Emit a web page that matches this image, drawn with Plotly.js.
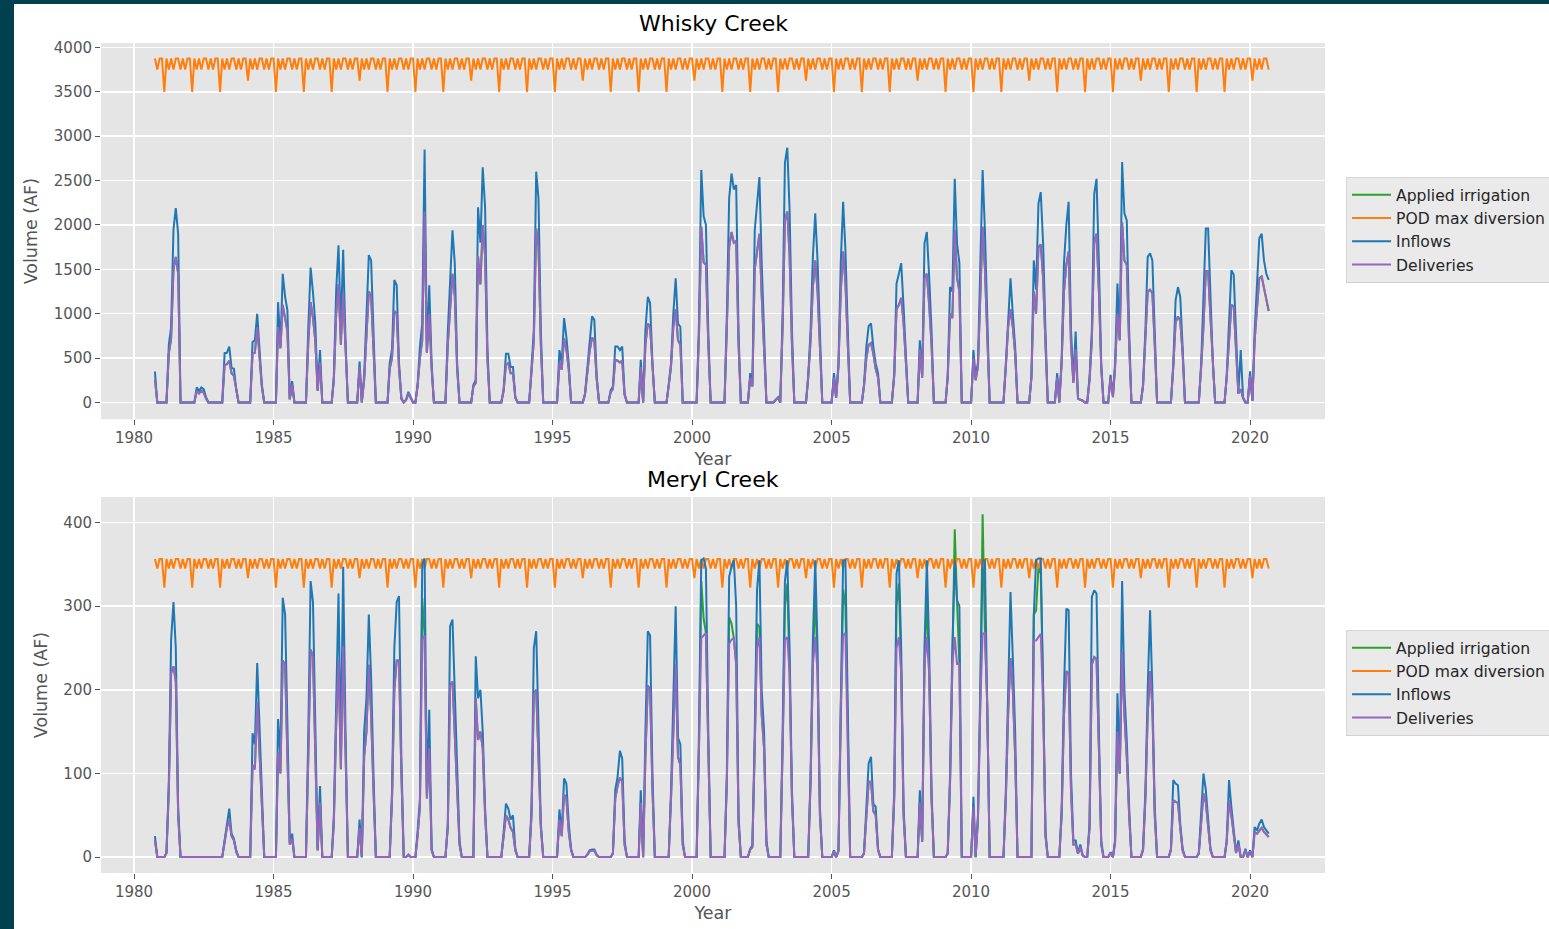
<!DOCTYPE html>
<html>
<head>
<meta charset="utf-8">
<script src="https://cdn.plot.ly/plotly-3.0.1.min.js"></script>
<style>
  html, body { margin:0; padding:0; background:#00404f; overflow:hidden; width:1549px; height:929px; }
  #chart { position:absolute; left:14px; top:4px; width:1535px; height:925px; background:#ffffff; overflow:hidden; }
</style>
</head>
<body>
<div id="chart"></div>
<script>
// ---------------- DATA (monthly, water years Oct..Sep) ----------------
const waterYears = [1981,1982,1983,1984,1985,1986,1987,1988,1989,1990,
                    1991,1992,1993,1994,1995,1996,1997,1998,1999,2000,
                    2001,2002,2003,2004,2005,2006,2007,2008,2009,2010,
                    2011,2012,2013,2014,2015,2016,2017,2018,2019,2020];
const monthOrder = [10,11,12,1,2,3,4,5,6,7,8,9];
const leapYears = [1984,1988,1992,1996,2000,2004,2008,2012,2016,2020];

const seriesNames = ["Applied irrigation","POD max diversion","Inflows","Deliveries"];
const chartTitles = ["Whisky Creek","Meryl Creek"];
const xTitle = "Year";
const yTitle = "Volume (AF)";

// POD max diversion: monthly pattern Oct..Sep, and leap-year February value
const whiskyPodPattern = [3875,3750,3875,3875,3500,3875,3750,3875,3750,3875,3875,3750];
const whiskyPodLeapFeb = 3625;
const merylPodPattern = [356.5,345,356.5,356.5,322,356.5,345,356.5,345,356.5,356.5,345];
const merylPodLeapFeb = 333.5;

// Whisky Creek inflows (one row per water year, Oct..Sep)
const whiskyInflows = [
 [349,0,0,0,0,0,650,850,1950,2190,1900,0],
 [0,0,0,0,0,0,170,130,170,150,60,0],
 [0,0,0,0,0,0,555,560,630,390,380,140],
 [0,0,0,0,0,0,680,700,1000,600,200,0],
 [0,0,0,0,0,1130,640,1450,1190,1040,40,240],
 [0,0,0,0,0,0,850,1520,1240,900,140,590],
 [0,0,0,0,0,300,1270,1770,820,1720,700,0],
 [0,0,0,0,460,0,300,1000,1660,1600,800,0],
 [0,0,0,0,0,440,600,1380,1320,450,50,0],
 [30,120,60,0,0,200,630,890,2850,570,1320,440],
 [0,0,0,0,0,0,800,1300,1940,1570,450,0],
 [0,0,0,0,0,200,250,2200,1800,2650,2200,600],
 [0,0,0,0,0,0,150,550,550,400,400,60],
 [0,0,0,0,0,0,400,820,2600,2300,800,0],
 [0,0,0,0,0,0,590,440,950,740,440,0],
 [0,0,0,0,0,100,400,700,970,930,300,0],
 [0,0,0,0,140,180,630,630,590,630,100,0],
 [0,0,0,0,0,480,0,820,1190,1120,440,0],
 [0,0,0,0,0,200,440,1000,1400,890,850,0],
 [0,0,0,0,0,0,900,2620,2100,2000,800,0],
 [0,0,0,0,0,0,1000,2300,2580,2400,2450,800],
 [0,0,0,0,330,200,1940,2200,2540,1570,820,0],
 [0,0,0,30,60,0,1000,2700,2870,2170,820,0],
 [0,0,0,0,0,300,820,1640,2130,1600,820,0],
 [0,0,0,0,330,60,440,1570,2260,1720,820,0],
 [0,0,0,0,0,200,630,860,890,630,440,330],
 [0,0,0,0,0,0,330,1340,1450,1570,1080,440],
 [0,0,0,0,0,700,300,1790,1920,1420,820,0],
 [0,0,0,0,0,300,1300,1250,2520,1790,1570,0],
 [0,0,0,0,590,290,450,1570,2620,1940,820,0],
 [0,0,0,0,0,0,440,1000,1400,1000,630,0],
 [0,0,0,0,0,300,1600,1270,2240,2370,1790,800],
 [0,0,0,0,330,0,500,1570,2000,2260,820,250],
 [800,50,30,20,0,0,290,820,2350,2520,1570,440],
 [0,0,0,310,70,440,1340,740,2710,2130,2050,820],
 [0,0,0,0,0,200,820,1640,1680,1600,820,0],
 [0,0,0,0,0,0,440,1150,1300,1190,630,0],
 [0,0,0,0,0,0,440,1100,1960,1960,1190,440],
 [0,0,0,0,0,300,900,1490,1440,820,105,590],
 [60,0,0,350,20,800,1340,1850,1900,1600,1450,1380]
];

// Whisky Creek deliveries
const whiskyDeliveries = [
 [260,0,0,0,0,0,550,720,1500,1640,1450,0],
 [0,0,0,0,0,0,130,100,130,110,45,0],
 [0,0,0,0,0,0,420,430,470,330,300,120],
 [0,0,0,0,0,0,550,560,850,500,170,0],
 [0,0,0,0,0,850,610,1100,950,800,35,200],
 [0,0,0,0,0,0,680,1130,950,700,130,450],
 [0,0,0,0,0,250,1000,1330,650,1230,550,0],
 [0,0,0,0,400,0,250,800,1250,1200,600,0],
 [0,0,0,0,0,380,500,1030,1000,380,40,0],
 [25,100,50,0,0,180,500,700,2150,560,1000,380],
 [0,0,0,0,0,0,650,1050,1450,1200,380,0],
 [0,0,0,0,0,180,220,1650,1330,2000,1650,480],
 [0,0,0,0,0,0,130,430,440,330,330,50],
 [0,0,0,0,0,0,350,700,1960,1750,650,0],
 [0,0,0,0,0,0,450,370,720,600,370,0],
 [0,0,0,0,0,90,350,580,730,700,260,0],
 [0,0,0,0,120,150,480,470,450,470,85,0],
 [0,0,0,0,0,400,0,650,890,850,380,0],
 [0,0,0,0,0,180,400,850,1050,700,650,0],
 [0,0,0,0,0,0,750,1980,1580,1550,650,0],
 [0,0,0,0,0,0,850,1750,1920,1800,1820,650],
 [0,0,0,0,280,180,1500,1700,1900,1200,650,0],
 [0,0,0,30,50,0,850,2050,2150,1650,650,0],
 [0,0,0,0,0,280,700,1300,1600,1250,650,0],
 [0,0,0,0,280,50,400,1250,1700,1350,650,0],
 [0,0,0,0,0,180,500,650,670,550,380,280],
 [0,0,0,0,0,0,300,1050,1100,1180,900,380],
 [0,0,0,0,0,600,280,1400,1450,1100,650,0],
 [0,0,0,0,0,280,1000,950,1940,1400,1250,0],
 [0,0,0,0,500,250,400,1200,1980,1500,650,0],
 [0,0,0,0,0,0,400,850,1050,850,550,0],
 [0,0,0,0,0,280,1250,1000,1750,1780,1400,650],
 [0,0,0,0,280,0,450,1250,1550,1700,650,220],
 [600,40,30,20,0,0,250,700,1800,1900,1250,380],
 [0,0,0,280,60,400,1000,700,2030,1600,1550,650],
 [0,0,0,0,0,180,700,1250,1270,1230,650,0],
 [0,0,0,0,0,0,400,900,970,920,550,0],
 [0,0,0,0,0,0,400,850,1480,1480,950,380],
 [0,0,0,0,0,280,750,1100,1080,650,100,150],
 [50,0,0,300,20,700,1100,1400,1420,1300,1150,1030]
];

// Whisky Creek applied irrigation (hidden under deliveries in the picture)
const whiskyApplied = [
 [260,0,0,0,0,0,550,720,1500,1640,1450,0],
 [0,0,0,0,0,0,130,100,130,110,45,0],
 [0,0,0,0,0,0,420,430,470,330,300,120],
 [0,0,0,0,0,0,550,560,850,500,170,0],
 [0,0,0,0,0,850,610,1100,950,800,35,200],
 [0,0,0,0,0,0,680,1130,950,700,130,450],
 [0,0,0,0,0,250,1000,1330,650,1230,550,0],
 [0,0,0,0,400,0,250,800,1250,1200,600,0],
 [0,0,0,0,0,380,500,1030,1000,380,40,0],
 [25,100,50,0,0,180,500,700,2150,560,1000,380],
 [0,0,0,0,0,0,650,1050,1450,1200,380,0],
 [0,0,0,0,0,180,220,1650,1330,2000,1650,480],
 [0,0,0,0,0,0,130,430,440,330,330,50],
 [0,0,0,0,0,0,350,700,1960,1750,650,0],
 [0,0,0,0,0,0,450,370,720,600,370,0],
 [0,0,0,0,0,90,350,580,730,700,260,0],
 [0,0,0,0,120,150,480,470,450,470,85,0],
 [0,0,0,0,0,400,0,650,890,850,380,0],
 [0,0,0,0,0,180,400,850,1050,700,650,0],
 [0,0,0,0,0,0,750,1980,1580,1550,650,0],
 [0,0,0,0,0,0,850,1750,1920,1800,1820,650],
 [0,0,0,0,280,180,1500,1700,1900,1200,650,0],
 [0,0,0,30,50,0,850,2050,2150,1650,650,0],
 [0,0,0,0,0,280,700,1300,1600,1250,650,0],
 [0,0,0,0,280,50,400,1250,1700,1350,650,0],
 [0,0,0,0,0,180,500,650,670,550,380,280],
 [0,0,0,0,0,0,300,1050,1100,1180,900,380],
 [0,0,0,0,0,600,280,1400,1450,1100,650,0],
 [0,0,0,0,0,280,1000,950,1940,1400,1250,0],
 [0,0,0,0,500,250,400,1200,1980,1500,650,0],
 [0,0,0,0,0,0,400,850,1050,850,550,0],
 [0,0,0,0,0,280,1250,1000,1750,1780,1400,650],
 [0,0,0,0,280,0,450,1250,1550,1700,650,220],
 [600,40,30,20,0,0,250,700,1800,1900,1250,380],
 [0,0,0,280,60,400,1000,700,2030,1600,1550,650],
 [0,0,0,0,0,180,700,1250,1270,1230,650,0],
 [0,0,0,0,0,0,400,900,970,920,550,0],
 [0,0,0,0,0,0,400,850,1480,1480,950,380],
 [0,0,0,0,0,280,750,1100,1080,650,100,150],
 [50,0,0,300,20,700,1100,1400,1420,1300,1150,1030]
];

// Meryl Creek inflows
const merylInflows = [
 [25,0,0,0,0,5,90,260,305,250,60,0],
 [0,0,0,0,0,0,0,0,0,0,0,0],
 [0,0,0,0,0,0,20,40,58,28,22,8],
 [0,0,0,0,0,0,148,135,232,150,60,0],
 [0,0,0,0,0,165,120,310,290,160,17,28],
 [0,0,0,0,0,0,150,330,305,160,10,85],
 [0,0,0,0,0,50,200,315,130,347,150,0],
 [0,0,0,0,45,0,150,190,290,215,100,0],
 [0,0,0,0,0,0,80,250,305,312,120,0],
 [0,3,0,0,0,30,70,350,357,76,176,10],
 [0,0,0,0,0,0,40,276,284,200,108,20],
 [0,0,0,0,0,0,240,190,200,150,60,0],
 [0,0,0,0,0,0,30,64,58,45,50,10],
 [0,0,0,0,0,0,60,250,270,150,40,0],
 [0,0,0,0,0,0,57,30,94,88,40,10],
 [0,0,0,0,0,0,3,8,9,9,3,0],
 [0,0,0,0,0,5,80,96,127,118,20,0],
 [0,0,0,0,0,80,0,150,270,265,100,0],
 [0,0,0,0,0,0,80,200,300,143,135,20],
 [0,0,0,0,0,0,150,355,357,345,150,0],
 [0,0,0,0,0,0,100,335,347,355,300,50],
 [0,0,0,0,10,14,150,320,355,200,150,20],
 [0,0,0,0,0,0,150,330,355,250,80,0],
 [0,0,0,0,0,0,100,260,355,250,60,0],
 [0,0,0,0,8,0,8,200,355,355,150,0],
 [0,0,0,0,0,5,60,112,120,64,60,10],
 [0,0,0,0,0,0,80,339,355,250,60,0],
 [0,0,0,0,0,80,20,250,355,250,80,0],
 [0,0,0,0,0,5,100,250,355,307,300,0],
 [0,0,0,0,72,0,50,200,355,355,200,0],
 [0,0,0,0,0,0,80,200,317,239,150,0],
 [0,0,0,0,0,0,290,355,357,357,200,30],
 [0,0,0,0,0,0,60,200,297,295,100,20],
 [20,5,15,2,0,0,40,311,319,315,150,20],
 [0,0,0,6,0,20,196,100,330,199,140,60],
 [0,0,0,0,0,10,80,200,295,200,60,0],
 [0,0,0,0,0,10,92,88,86,40,10,0],
 [0,0,0,0,0,5,50,100,80,40,10,0],
 [0,0,0,0,0,20,92,60,30,6,20,0],
 [0,10,0,8,0,36,32,40,45,36,32,28]
];

// Meryl Creek deliveries
const merylDeliveries = [
 [20,0,0,0,0,5,80,220,228,210,50,0],
 [0,0,0,0,0,0,0,0,0,0,0,0],
 [0,0,0,0,0,0,18,35,45,25,20,6],
 [0,0,0,0,0,0,110,105,185,120,50,0],
 [0,0,0,0,0,125,100,235,230,120,15,22],
 [0,0,0,0,0,0,120,248,240,130,8,65],
 [0,0,0,0,0,40,160,235,105,252,120,0],
 [0,0,0,0,35,0,120,150,230,170,80,0],
 [0,0,0,0,0,0,70,200,235,235,100,0],
 [0,3,0,0,0,25,60,260,265,70,130,8],
 [0,0,0,0,0,0,35,205,210,150,85,15],
 [0,0,0,0,0,0,190,140,150,130,50,0],
 [0,0,0,0,0,0,25,50,45,35,30,8],
 [0,0,0,0,0,0,50,195,200,120,35,0],
 [0,0,0,0,0,0,45,25,75,70,30,8],
 [0,0,0,0,0,0,3,7,8,8,2,0],
 [0,0,0,0,0,4,70,85,95,90,15,0],
 [0,0,0,0,0,65,0,120,205,200,80,0],
 [0,0,0,0,0,0,70,160,230,120,110,15],
 [0,0,0,0,0,0,130,262,265,268,130,0],
 [0,0,0,0,0,0,90,255,260,262,230,40],
 [0,0,0,0,9,12,130,250,263,170,130,15],
 [0,0,0,0,0,0,130,260,263,220,70,0],
 [0,0,0,0,0,0,90,230,263,220,50,0],
 [0,0,0,0,7,0,7,180,265,268,130,0],
 [0,0,0,0,0,4,50,90,90,55,50,8],
 [0,0,0,0,0,0,70,250,263,220,50,0],
 [0,0,0,0,0,65,18,230,263,220,70,0],
 [0,0,0,0,0,4,90,230,263,231,231,0],
 [0,0,0,0,60,0,45,180,267,268,180,0],
 [0,0,0,0,0,0,70,170,238,200,120,0],
 [0,0,0,0,0,0,259,259,263,267,180,25],
 [0,0,0,0,0,0,50,170,222,220,80,15],
 [15,4,12,2,0,0,35,230,239,237,130,15],
 [0,0,0,5,0,18,150,100,245,170,120,50],
 [0,0,0,0,0,8,70,170,222,180,50,0],
 [0,0,0,0,0,8,68,66,65,35,8,0],
 [0,0,0,0,0,4,40,76,65,35,8,0],
 [0,0,0,0,0,18,68,50,25,5,15,0],
 [0,8,0,7,0,30,28,32,35,30,27,24]
];

// Meryl Creek applied irrigation
const merylApplied = [
 [20,0,0,0,0,5,80,220,228,210,50,0],
 [0,0,0,0,0,0,0,0,0,0,0,0],
 [0,0,0,0,0,0,18,35,45,25,20,6],
 [0,0,0,0,0,0,110,105,185,120,50,0],
 [0,0,0,0,0,125,100,235,230,120,15,22],
 [0,0,0,0,0,0,120,248,240,130,8,65],
 [0,0,0,0,0,40,160,235,105,252,120,0],
 [0,0,0,0,35,0,120,150,230,170,80,0],
 [0,0,0,0,0,0,70,200,235,235,100,0],
 [0,3,0,0,0,25,60,310,265,70,130,8],
 [0,0,0,0,0,0,35,205,210,150,85,15],
 [0,0,0,0,0,0,190,140,150,130,50,0],
 [0,0,0,0,0,0,25,50,45,35,30,8],
 [0,0,0,0,0,0,50,195,200,120,35,0],
 [0,0,0,0,0,0,45,25,75,70,30,8],
 [0,0,0,0,0,0,3,7,8,8,2,0],
 [0,0,0,0,0,4,70,85,95,90,15,0],
 [0,0,0,0,0,65,0,120,205,200,80,0],
 [0,0,0,0,0,0,70,160,230,120,110,15],
 [0,0,0,0,0,0,130,330,285,268,130,0],
 [0,0,0,0,0,0,90,287,279,262,230,40],
 [0,0,0,0,9,12,130,279,275,170,130,15],
 [0,0,0,0,0,0,130,300,327,220,70,0],
 [0,0,0,0,0,0,90,230,320,220,50,0],
 [0,0,0,0,7,0,7,180,320,300,130,0],
 [0,0,0,0,0,4,50,90,90,55,50,8],
 [0,0,0,0,0,0,70,300,327,220,50,0],
 [0,0,0,0,0,65,18,230,311,220,70,0],
 [0,0,0,0,0,4,90,230,392,305,231,0],
 [0,0,0,0,60,0,45,180,410,268,180,0],
 [0,0,0,0,0,0,70,170,238,200,120,0],
 [0,0,0,0,0,0,290,295,347,339,200,25],
 [0,0,0,0,0,0,50,170,222,220,80,15],
 [15,4,12,2,0,0,35,230,239,237,130,15],
 [0,0,0,5,0,18,150,100,245,170,120,50],
 [0,0,0,0,0,8,70,170,222,180,50,0],
 [0,0,0,0,0,8,68,66,65,35,8,0],
 [0,0,0,0,0,4,40,76,65,35,8,0],
 [0,0,0,0,0,18,68,50,25,5,15,0],
 [0,8,0,7,0,30,28,32,35,30,27,24]
];

const colors = {applied:'#2ca02c', pod:'#ff7f0e', inflow:'#1f77b4', deliv:'#9467bd'};

// ---------------- BUILD ----------------
const dates = [];
waterYears.forEach(wy => monthOrder.forEach(m => {
  const y = m >= 10 ? wy - 1 : wy;
  dates.push(y + '-' + String(m).padStart(2,'0') + '-01');
}));

function podSeries(pattern, leapFeb) {
  const out = [];
  waterYears.forEach(wy => monthOrder.forEach((m, i) => {
    out.push(m === 2 && leapYears.includes(wy) ? leapFeb : pattern[i]);
  }));
  return out;
}

function traces(applied, pod, inflow, deliv, xa, ya, leg) {
  const vals = [applied.flat(), pod, inflow.flat(), deliv.flat()];
  const cols = [colors.applied, colors.pod, colors.inflow, colors.deliv];
  return vals.map((v, i) => ({
    type:'scatter', mode:'lines', x: dates, y: v, name: seriesNames[i],
    xaxis: xa, yaxis: ya, legend: leg,
    line: {color: cols[i], width: 2}
  }));
}

const data = [
  ...traces(whiskyApplied, podSeries(whiskyPodPattern, whiskyPodLeapFeb), whiskyInflows, whiskyDeliveries, 'x', 'y', 'legend'),
  ...traces(merylApplied, podSeries(merylPodPattern, merylPodLeapFeb), merylInflows, merylDeliveries, 'x2', 'y2', 'legend2')
];

const tickFont = {family:'DejaVu Sans', size:15, color:'#555555'};
const axTitleFont = {family:'DejaVu Sans', size:17.5, color:'#555555'};

function xAxis(anchor) {
  return {
    anchor: anchor, domain:[0,1], type:'date',
    range:['1978-10-26','2022-09-08'],
    tick0:'1980-01-01', dtick:'M60', tickformat:'%Y',
    showgrid:true, gridcolor:'#ffffff', gridwidth:1.4,
    zeroline:false, showline:false,
    ticks:'outside', ticklen:5, tickwidth:1, tickcolor:'#555555',
    tickfont: tickFont,
    title:{text:xTitle, font:axTitleFont, standoff:6}
  };
}
function yAxis(anchor, domain, range, dtick) {
  return {
    anchor: anchor, domain: domain, range: range, tick0:0, dtick: dtick,
    showgrid:true, gridcolor:'#ffffff', gridwidth:1.4,
    zeroline:false, showline:false,
    ticks:'outside', ticklen:5, tickwidth:1, tickcolor:'#555555',
    tickfont: tickFont,
    title:{text:yTitle, font:axTitleFont, standoff:11}
  };
}

const legendBase = {
  xanchor:'left', yanchor:'top', x:1.0172,
  bgcolor:'rgba(229,229,229,0.8)', bordercolor:'rgba(204,204,204,0.8)', borderwidth:1,
  font:{family:'DejaVu Sans', size:15.6, color:'#262626'},
  itemwidth:39,
  traceorder:'normal'
};

const layout = {
  width:1535, height:925,
  paper_bgcolor:'#ffffff', plot_bgcolor:'#e5e5e5',
  margin:{l:87, r:224, t:39, b:56, pad:0, autoexpand:false},
  font:{family:'DejaVu Sans', color:'#555555'},
  showlegend:true,
  xaxis: xAxis('y'),
  yaxis: yAxis('x', [0.5466, 1], [-190, 4050], 500),
  xaxis2: xAxis('y2'),
  yaxis2: yAxis('x2', [0, 0.4530], [-19, 430.5], 100),
  legend: Object.assign({}, legendBase, {y:0.8385}),
  legend2: Object.assign({}, legendBase, {y:0.2927}),
  annotations: [
    {text: chartTitles[0], xref:'paper', yref:'paper', x:0.5, y:1.0229, xanchor:'center', yanchor:'middle', showarrow:false,
     font:{family:'DejaVu Sans', size:22, color:'#000000'}},
    {text: chartTitles[1], xref:'paper', yref:'paper', x:0.5, y:0.4735, xanchor:'center', yanchor:'middle', showarrow:false,
     font:{family:'DejaVu Sans', size:22, color:'#000000'}}
  ]
};

Plotly.newPlot('chart', data, layout, {displayModeBar:false, staticPlot:true});
</script>
</body>
</html>
